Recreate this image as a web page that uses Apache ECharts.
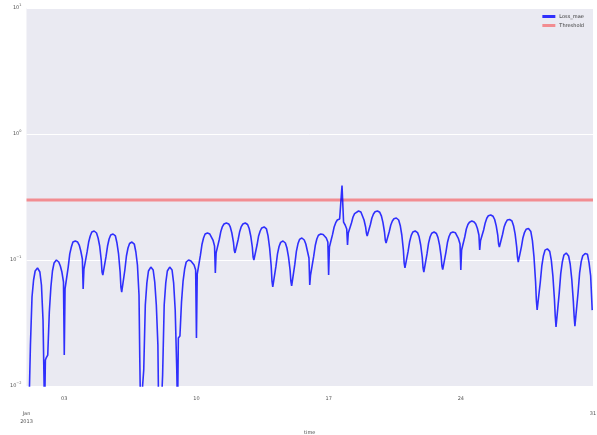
<!DOCTYPE html>
<html>
<head>
<meta charset="utf-8">
<script src="https://cdn.jsdelivr.net/npm/echarts@6/dist/echarts.min.js"></script>
<style>
  html, body { margin: 0; padding: 0; background: #ffffff; }
  #chart { width: 597px; height: 435px; }
</style>
</head>
<body>
<div id="chart"></div>
<script>
// Sample hours within each day (UTC)
const HOURS = [0, 1, 3, 5, 7, 9, 11, 14, 17, 19, 21, 23];

// loss_mae, one row per day of January 2013, one value per entry of HOURS
const lossMae = [
  [0.006, 0.006, 0.006, 0.0212, 0.0509, 0.0694, 0.0818, 0.0865, 0.0803, 0.0633, 0.0334, 0.006],   // 01
  [0.0161, 0.0167, 0.0176, 0.0387, 0.0611, 0.0818, 0.0946, 0.100, 0.0964, 0.0896, 0.0803, 0.0669], // 02
  [0.0176, 0.0589, 0.0589, 0.0879, 0.1117, 0.1268, 0.1389, 0.1415, 0.1389, 0.1315, 0.1179, 0.1018], // 03
  [0.0589, 0.0848, 0.0848, 0.1158, 0.1389, 0.1551, 0.1668, 0.1699, 0.1638, 0.1495, 0.1291, 0.100],  // 04
  [0.0803, 0.076, 0.076, 0.1057, 0.1291, 0.1468, 0.1579, 0.1608, 0.1551, 0.1364, 0.1117, 0.0803],   // 05
  [0.061, 0.0557, 0.0557, 0.0833, 0.1076, 0.1245, 0.1352, 0.1389, 0.1339, 0.1158, 0.0913, 0.0528],  // 06
  [0.0161, 0.006, 0.006, 0.0134, 0.0439, 0.0658, 0.0818, 0.0879, 0.0833, 0.0669, 0.0439, 0.0212],   // 07
  [0.006, 0.006, 0.006, 0.0122, 0.0439, 0.0658, 0.0818, 0.0879, 0.0833, 0.0658, 0.0401, 0.0134],    // 08
  [0.006, 0.024, 0.0249, 0.0463, 0.0681, 0.0848, 0.0964, 0.100, 0.0982, 0.0964, 0.0913, 0.0833],    // 09
  [0.024, 0.0774, 0.0774, 0.1086, 0.1327, 0.1495, 0.1608, 0.1638, 0.1608, 0.1551, 0.1441, 0.1291],  // 10
  [0.0788, 0.1138, 0.1138, 0.1454, 0.1687, 0.1841, 0.1931, 0.1967, 0.1931, 0.1829, 0.1638, 0.1389], // 11
  [0.1201, 0.1138, 0.115, 0.1454, 0.1687, 0.1841, 0.1931, 0.1967, 0.1913, 0.1778, 0.1551, 0.1268],  // 12
  [0.1057, 0.100, 0.100, 0.1315, 0.1551, 0.1699, 0.1796, 0.1829, 0.1763, 0.1555, 0.1245, 0.0896],   // 13
  [0.0681, 0.0611, 0.0611, 0.089, 0.1117, 0.128, 0.138, 0.1415, 0.1364, 0.1245, 0.1057, 0.0833],    // 14
  [0.0681, 0.0622, 0.0622, 0.0923, 0.117, 0.1344, 0.1456, 0.1495, 0.1441, 0.1339, 0.1179, 0.1038],  // 15
  [0.0633, 0.076, 0.076, 0.1067, 0.1303, 0.1468, 0.1573, 0.1608, 0.1594, 0.1551, 0.1495, 0.1389],   // 16
  [0.076, 0.1268, 0.1268, 0.1596, 0.1829, 0.1978, 0.2077, 0.2115, 0.39, 0.1995, 0.1896, 0.1763],    // 17
  [0.1315, 0.1638, 0.1638, 0.1967, 0.2194, 0.2336, 0.2417, 0.2448, 0.2404, 0.2318, 0.2077, 0.1829], // 18
  [0.1638, 0.1551, 0.1551, 0.1905, 0.2155, 0.2318, 0.2413, 0.2448, 0.239, 0.2243, 0.1987, 0.1668],  // 19
  [0.1441, 0.1364, 0.1364, 0.1676, 0.1896, 0.2039, 0.2126, 0.2155, 0.2077, 0.1879, 0.1579, 0.1201], // 20
  [0.0946, 0.0865, 0.0865, 0.117, 0.1404, 0.1568, 0.1668, 0.1699, 0.165, 0.1528, 0.1315, 0.105],    // 21
  [0.0865, 0.0803, 0.0803, 0.1117, 0.136, 0.1528, 0.1632, 0.1668, 0.1624, 0.1505, 0.1313, 0.1068],  // 22
  [0.0896, 0.084, 0.084, 0.1146, 0.1376, 0.1537, 0.1635, 0.1668, 0.1647, 0.1588, 0.1476, 0.1339],   // 23
  [0.0833, 0.1201, 0.1201, 0.1523, 0.1763, 0.1913, 0.1995, 0.2039, 0.2003, 0.1931, 0.1786, 0.1579], // 24
  [0.1201, 0.142, 0.142, 0.173, 0.197, 0.2147, 0.2243, 0.2276, 0.2222, 0.2096, 0.1865, 0.1565],     // 25
  [0.1339, 0.1268, 0.1268, 0.1594, 0.1826, 0.197, 0.2073, 0.210, 0.2039, 0.1871, 0.1611, 0.127],    // 26
  [0.1057, 0.0964, 0.0964, 0.1273, 0.1503, 0.1659, 0.1752, 0.178, 0.1681, 0.1425, 0.1059, 0.0675],  // 27
  [0.0481, 0.0401, 0.0401, 0.0666, 0.0904, 0.1082, 0.1197, 0.1225, 0.117, 0.0998, 0.075, 0.0488],   // 28
  [0.0359, 0.0294, 0.0294, 0.0541, 0.0779, 0.0964, 0.1092, 0.1137, 0.1076, 0.093, 0.0707, 0.0472],  // 29
  [0.036, 0.0298, 0.0298, 0.055, 0.079, 0.097, 0.108, 0.1125, 0.111, 0.095, 0.075, 0.040]           // 30
];

const THRESHOLD = 0.3;
const SERIES_NAMES = ['Loss_mae', 'Threshold'];
const Y_TICKS = [0.01, 0.1, 1, 10];
const X_MINOR_DAYS = [3, 10, 17, 24];
const X_AXIS_TITLE = 'time';

const DAY_MS = 86400000;
const X_START = Date.UTC(2013, 0, 1);
const X_END = Date.UTC(2013, 0, 31);

const lossPoints = [];
lossMae.forEach((row, d) => {
  row.forEach((v, i) => {
    lossPoints.push([Date.UTC(2013, 0, 1 + d, HOURS[i]), v]);
  });
});
const thresholdPoints = [[X_START, THRESHOLD], [X_END, THRESHOLD]];

const pad2 = n => (n < 10 ? '0' : '') + n;

const chart = echarts.init(document.getElementById('chart'), null, { renderer: 'canvas' });
chart.setOption({
  animation: false,
  backgroundColor: '#ffffff',
  textStyle: { fontFamily: 'DejaVu Sans' },
  grid: {
    left: 26.5, right: 4, top: 8, bottom: 49,
    outerBoundsMode: 'none', containLabel: false,
    show: true, backgroundColor: '#EAEAF2', borderWidth: 0
  },
  legend: {
    orient: 'vertical',
    right: 8, top: 9,
    itemWidth: 13, itemHeight: 3, itemGap: 4,
    icon: 'rect',
    textStyle: { fontSize: 5, color: '#333', padding: [0, 0, 0, -1] },
    data: SERIES_NAMES
  },
  xAxis: {
    type: 'value',
    min: X_START, max: X_END, interval: DAY_MS,
    axisLine: { show: false }, axisTick: { show: false }, splitLine: { show: false },
    name: X_AXIS_TITLE, nameLocation: 'middle', nameGap: 43,
    nameTextStyle: { fontSize: 5, color: '#444' },
    axisLabel: {
      margin: 9, fontSize: 5, lineHeight: 7.5, color: '#555',
      showMinLabel: true, showMaxLabel: true,
      formatter: v => {
        const dt = new Date(v);
        const day = dt.getUTCDate();
        if (v === X_START) return '\n\nJan\n2013';
        if (v === X_END) return '\n\n' + day;
        if (X_MINOR_DAYS.indexOf(day) >= 0) return pad2(day);
        return '';
      }
    }
  },
  yAxis: {
    type: 'log', logBase: 10, min: Y_TICKS[0], max: Y_TICKS[Y_TICKS.length - 1],
    axisLine: { show: false }, axisTick: { show: false },
    splitLine: { show: true, lineStyle: { color: '#ffffff', width: 1 } },
    axisLabel: {
      margin: 5, fontSize: 5, color: '#555',
      formatter: v => {
        const e = Math.round(Math.log10(v));
        return '10{s|' + (e < 0 ? '\u2212' + (-e) : e) + '}';
      },
      rich: { s: { fontSize: 3.5, color: '#555', padding: [0, 0, 5, 0] } }
    }
  },
  series: [
    {
      name: SERIES_NAMES[0], type: 'line', data: lossPoints,
      showSymbol: false, clip: true, z: 3,
      itemStyle: { color: 'rgba(0,0,255,0.8)' },
      lineStyle: { color: 'rgba(0,0,255,0.8)', width: 1.6 }
    },
    {
      name: SERIES_NAMES[1], type: 'line', data: thresholdPoints,
      showSymbol: false, clip: true, z: 2,
      itemStyle: { color: 'rgba(255,0,0,0.4)' },
      lineStyle: { color: 'rgba(255,0,0,0.4)', width: 3 }
    }
  ]
});
</script>
</body>
</html>
